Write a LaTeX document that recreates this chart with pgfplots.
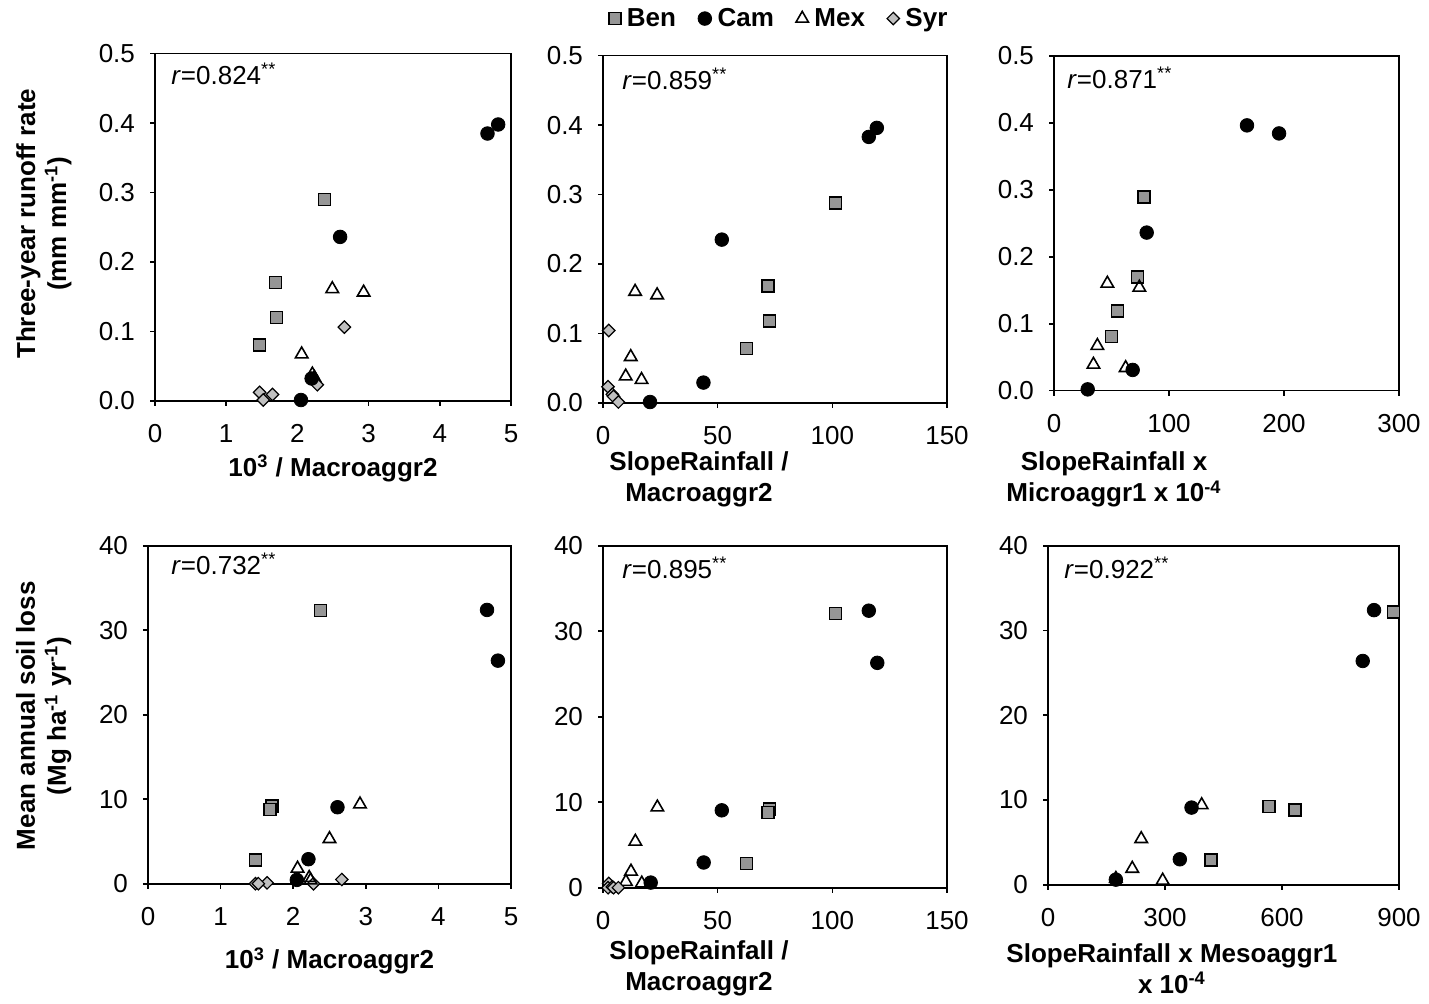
\documentclass[border=0pt]{standalone}
\usepackage{fontspec}
\setmainfont{Liberation Sans}
\usepackage{pgfplots}
\pgfplotsset{compat=1.18}
\definecolor{bengray}{RGB}{150,150,150}
\definecolor{syrgray}{RGB}{192,192,192}
\newcommand\fs{\fontsize{13}{15.5}\selectfont}
\pgfplotsset{
  panel/.style={
    scale only axis, clip=false,
    axis line style={line width=0.8pt},
    every tick/.style={black, line width=0.8pt},
    tick pos=left, tick align=outside, major tick length=2.5pt,
    /pgf/number format/assume math mode=true,
    tick label style={font=\fs},
    xticklabel style={yshift=-6pt},
    yticklabel style={xshift=-4pt},
    xlabel style={font=\fs\bfseries, align=center, anchor=center},
    ylabel style={font=\fs\bfseries, align=center, anchor=center},
    scaled ticks=false,
  },
  runy/.style={ymin=0, ymax=0.5, ytick={0,0.1,0.2,0.3,0.4,0.5},
    yticklabel style={/pgf/number format/.cd, fixed, fixed zerofill, precision=1}},
  lossy/.style={ymin=0, ymax=40, ytick={0,10,20,30,40}},
  ben/.style={only marks, mark=square*, mark size=3pt, mark options={fill=bengray, draw=black, line width=0.7pt}},
  cam/.style={only marks, mark=*, mark size=3.4pt, mark options={fill=black, draw=black}},
  mex/.style={only marks, mark=triangle, mark size=3.6pt, mark options={fill=white, draw=black, line width=0.8pt}},
  syr/.style={only marks, mark=square*, mark size=2.2pt, mark options={rotate=45, fill=syrgray, draw=black, line width=0.6pt}},
}
\newcommand\rlabel[3]{\node[anchor=west, font=\fs, inner sep=0pt] at (rel axis cs:0,1) [xshift=#2, yshift=#3] {\textit{r}=#1\textsuperscript{**}};}
\begin{document}
\begin{tikzpicture}
\path (0,0) rectangle (714.5pt,-499.5pt);

% P1
\begin{axis}[panel, runy, at={(77.5pt,-200pt)}, anchor=south west, width=178pt, height=173.5pt,
  xmin=0, xmax=5, xtick={0,1,2,3,4,5},
  xlabel={10\textsuperscript{3} / Macroaggr2},
  xlabel style={at={(axis description cs:0.5,-0.196)}},
  ylabel={Three-year runoff rate\\(mm mm\textsuperscript{-1})},
  ylabel style={at={(axis description cs:-0.312,0.510)}}]
\addplot[ben] coordinates {(2.38,0.290) (1.69,0.170) (1.71,0.120) (1.47,0.080)};
\addplot[mex] coordinates {(2.49,0.161) (2.93,0.156) (2.06,0.067) (2.21,0.038) (2.24,0.033)};
\addplot[syr] coordinates {(2.66,0.106) (1.47,0.012) (1.52,0.001) (1.65,0.009) (2.28,0.023)};
\addplot[cam] coordinates {(4.67,0.385) (4.82,0.398) (2.60,0.236) (2.20,0.032) (2.05,0.001)};
\rlabel{0.824}{8pt}{-10pt}
\end{axis}

% P2
\begin{axis}[panel, runy, at={(301.5pt,-201pt)}, anchor=south west, width=172pt, height=173.5pt,
  xmin=0, xmax=150, xtick={0,50,100,150},
  xlabel={SlopeRainfall /\\Macroaggr2},
  xlabel style={at={(axis description cs:0.279,-0.222)}},
  legend style={at={(0.515,1.107)}, anchor=center, draw=none, legend columns=4,
    font=\fs\bfseries, /tikz/every even column/.append style={column sep=9pt},
    /tikz/every odd column/.append style={column sep=1pt}},
  legend cell align=left]
\addplot[ben] coordinates {(101.5,0.288) (71.9,0.168) (72.6,0.118) (62.7,0.078)};
\addplot[cam] coordinates {(115.9,0.383) (119.4,0.396) (51.8,0.235) (43.8,0.029) (20.5,0.001)};
\addplot[mex] coordinates {(14.0,0.160) (23.6,0.155) (12.1,0.066) (9.9,0.038) (16.8,0.033)};
\addplot[syr] coordinates {(2.5,0.104) (2.2,0.023) (4.1,0.012) (4.6,0.009) (6.7,0.001)};
\legend{Ben, Cam, Mex, Syr}
\rlabel{0.859}{9.5pt}{-11.5pt}
\end{axis}

% P3
\begin{axis}[panel, runy, at={(527pt,-195pt)}, anchor=south west, width=172.5pt, height=167.5pt,
  xmin=0, xmax=300, xtick={0,100,200,300},
  xlabel={SlopeRainfall x\\Microaggr1 x 10\textsuperscript{-4}},
  xlabel style={at={(axis description cs:0.174,-0.266)}}]
\addplot[ben] coordinates {(78.3,0.289) (72.8,0.170) (55.1,0.119) (49.9,0.081)};
\addplot[mex] coordinates {(46.4,0.160) (74.2,0.154) (37.7,0.067) (34.3,0.039) (62.3,0.034)};
\addplot[cam] coordinates {(167.8,0.396) (195.7,0.384) (80.6,0.236) (68.4,0.031) (29.3,0.002)};
\rlabel{0.871}{6.5pt}{-11pt}
\end{axis}

% P4
\begin{axis}[panel, lossy, at={(74pt,-441.5pt)}, anchor=south west, width=181.5pt, height=169pt,
  xmin=0, xmax=5, xtick={0,1,2,3,4,5},
  xlabel={10\textsuperscript{3} / Macroaggr2},
  xlabel style={at={(axis description cs:0.5,-0.228)}},
  ylabel={Mean annual soil loss\\(Mg ha\textsuperscript{-1} yr\textsuperscript{-1})},
  ylabel style={at={(axis description cs:-0.287,0.497)}}]
\addplot[ben] coordinates {(2.38,32.3) (1.71,9.2) (1.68,8.8) (1.48,2.8)};
\addplot[syr] coordinates {(2.67,0.5) (1.48,0.0) (1.64,0.1) (2.28,0.0) (1.52,0.0)};
\addplot[mex] coordinates {(2.92,9.4) (2.50,5.3) (2.06,1.8) (2.22,0.7) (2.24,0.4)};
\addplot[cam] coordinates {(4.67,32.4) (4.82,26.4) (2.61,9.05) (2.21,2.9) (2.05,0.45)};
\rlabel{0.732}{11.5pt}{-9pt}
\end{axis}

% P5
\begin{axis}[panel, lossy, at={(301.5pt,-443.5pt)}, anchor=south west, width=172pt, height=171pt,
  xmin=0, xmax=150, xtick={0,50,100,150},
  xlabel={SlopeRainfall /\\Macroaggr2},
  xlabel style={at={(axis description cs:0.279,-0.237)}}]
\addplot[ben] coordinates {(101.5,32.1) (72.6,9.2) (71.9,8.8) (62.7,2.8)};
\addplot[cam] coordinates {(115.9,32.4) (119.6,26.3) (51.8,9.05) (43.9,2.95) (20.8,0.6)};
\addplot[mex] coordinates {(23.7,9.4) (14.1,5.4) (12.2,1.9) (10.0,0.7) (16.9,0.5)};
\addplot[syr] coordinates {(2.5,0.5) (2.2,0.0) (4.1,0.1) (4.6,0.0) (6.7,0.0)};
\rlabel{0.895}{9.5pt}{-11pt}
\end{axis}

% P6
\begin{axis}[panel, lossy, at={(524pt,-442pt)}, anchor=south west, width=175.5pt, height=169.5pt,
  xmin=0, xmax=900, xtick={0,300,600,900},
  xlabel={SlopeRainfall x Mesoaggr1\\x 10\textsuperscript{-4}},
  xlabel style={at={(axis description cs:0.353,-0.248)}}]
\addplot[ben] coordinates {(886,32.2) (567,9.2) (633,8.8) (418,2.9)};
\addplot[cam] coordinates {(836,32.4) (807,26.4) (368,9.1) (338,3.0) (174,0.6)};
\addplot[mex] coordinates {(394,9.4) (239,5.4) (216,1.9) (174,0.7) (294,0.5)};
\rlabel{0.922}{8pt}{-11pt}
\end{axis}
\end{tikzpicture}
\end{document}
